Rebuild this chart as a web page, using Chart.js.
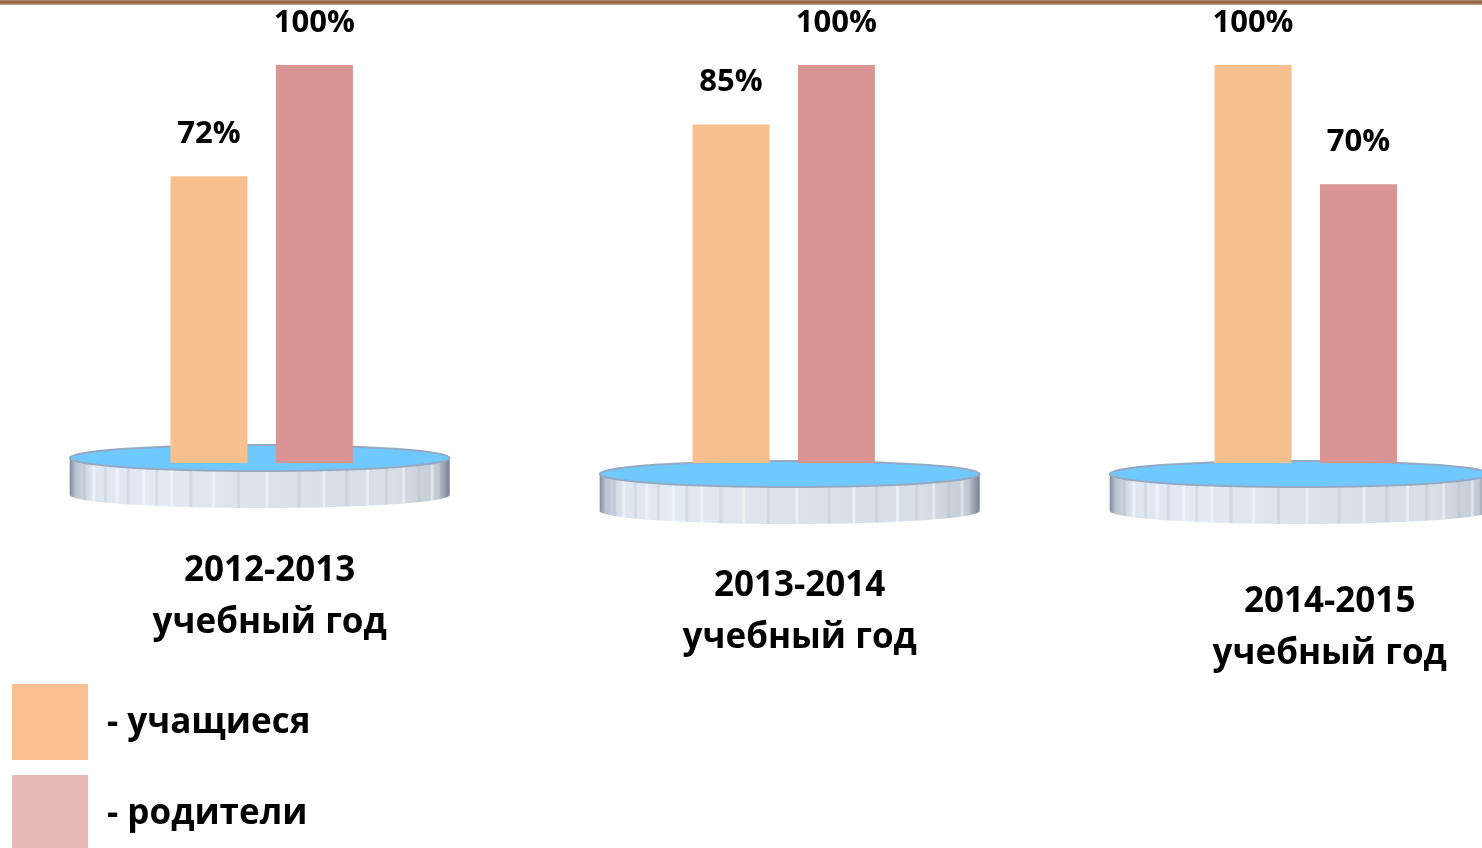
<!DOCTYPE html>
<html>
<head>
<meta charset="utf-8">
<script src="https://cdn.jsdelivr.net/npm/chart.js@4/dist/chart.umd.min.js"></script>
<style>
html,body{margin:0;padding:0;background:#fff;overflow:hidden;}
#wrap{position:relative;width:1482px;height:848px;}
canvas{display:block;}
</style>
</head>
<body>
<div id="wrap"><canvas id="c" width="1482" height="848"></canvas></div>
<script>
// ---- data ----
const categories = [['2012-2013', 'учебный год'], ['2013-2014', 'учебный год'], ['2014-2015', 'учебный год']];
const seriesNames = ['учащиеся', 'родители'];
const students = [72, 85, 100];
const parents = [100, 100, 70];

// ---- styles ----
const barColors = ['#F9C08F', '#D99594'];
const legendColors = ['#FAC090', '#E6B9B8'];
const pedestalDx = [-2, 6, -6];
const pedestalCy = [458, 474, 474];
const catLabelDx = [8, 16, 24];
const catLabelY = [571, 586, 602];
const FONT = '"Open Sans", Lato, sans-serif';

const idx = categories.map((_, i) => i);

const decor = {
  id: 'decor',
  beforeDatasetsDraw(chart) {
    const ctx = chart.ctx;
    const xs = chart.scales.x;
    const g = ctx.createLinearGradient(0, 0, 0, 5);
    g.addColorStop(0, '#b08866');
    g.addColorStop(0.5, '#8e6444');
    g.addColorStop(1, '#c9a98c');
    ctx.save();
    ctx.fillStyle = g;
    ctx.fillRect(0, 0, chart.width, 5);
    ctx.restore();
    idx.forEach(i => {
      const cx = xs.getPixelForValue(i) + pedestalDx[i];
      const cy = pedestalCy[i];
      const rx = 190, ry = 13, depth = 37;
      ctx.save();
      ctx.beginPath();
      ctx.moveTo(cx - rx, cy);
      ctx.lineTo(cx - rx, cy + depth);
      ctx.ellipse(cx, cy + depth, rx, ry, 0, Math.PI, 0, true);
      ctx.lineTo(cx + rx, cy);
      ctx.ellipse(cx, cy, rx, ry, 0, 0, Math.PI, false);
      ctx.closePath();
      const sg = ctx.createLinearGradient(cx - rx, 0, cx + rx, 0);
      sg.addColorStop(0, '#7f8a9c');
      sg.addColorStop(0.015, '#b9c2cf');
      sg.addColorStop(0.06, '#dfe6f0');
      sg.addColorStop(0.2, '#e4eaf3');
      sg.addColorStop(0.5, '#dce2ea');
      sg.addColorStop(0.85, '#d8dee6');
      sg.addColorStop(0.97, '#c3cad4');
      sg.addColorStop(1, '#737e90');
      ctx.fillStyle = sg;
      ctx.fill();
      ctx.clip();
      const stripes = [-0.93,-0.88,-0.82,-0.76,-0.7,-0.62,-0.55,-0.47,-0.37,-0.25,-0.12,0.03,0.2,0.33,0.45,0.56,0.66,0.75,0.83,0.9,0.95];
      stripes.forEach((s, k) => {
        ctx.fillStyle = k % 2 ? 'rgba(255,255,255,0.45)' : 'rgba(150,160,178,0.18)';
        ctx.fillRect(cx + s * rx, cy - ry, 3, depth + 3 * ry);
      });
      ctx.restore();
      ctx.save();
      ctx.beginPath();
      ctx.ellipse(cx, cy, rx, ry, 0, 0, Math.PI * 2);
      ctx.fillStyle = '#70c9fe';
      ctx.fill();
      ctx.lineWidth = 2;
      ctx.strokeStyle = '#93a9c4';
      ctx.stroke();
      ctx.restore();
    });
  },
  afterDatasetsDraw(chart) {
    const ctx = chart.ctx;
    const xs = chart.scales.x;
    ctx.save();
    ctx.fillStyle = '#000';
    ctx.textAlign = 'center';
    ctx.textBaseline = 'middle';
    ctx.font = 'bold 31px ' + FONT;
    chart.data.datasets.forEach((ds, d) => {
      chart.getDatasetMeta(d).data.forEach((bar, i) => {
        ctx.fillText(ds.data[i].y + '%', bar.x, bar.y - 42);
      });
    });
    ctx.font = 'bold 35px ' + FONT;
    categories.forEach((lines, i) => {
      const x = xs.getPixelForValue(i) + catLabelDx[i];
      lines.forEach((t, k) => ctx.fillText(t, x, catLabelY[i] + k * 52));
    });
    ctx.textAlign = 'left';
    ctx.font = 'bold 35px ' + FONT;
    chart.data.datasets.forEach((ds, d) => {
      const top = 684 + d * 91;
      ctx.fillStyle = legendColors[d];
      ctx.fillRect(12, top, 76, 76);
      ctx.fillStyle = '#000';
      ctx.fillText('- ' + ds.label, 107, top + 39);
    });
    ctx.restore();
  }
};

new Chart(document.getElementById('c'), {
  type: 'bar',
  data: {
    datasets: [
      { label: seriesNames[0], data: students.map((v, i) => ({ x: i, y: v })), backgroundColor: barColors[0] },
      { label: seriesNames[1], data: parents.map((v, i) => ({ x: i, y: v })), backgroundColor: barColors[1] }
    ]
  },
  options: {
    responsive: false,
    animation: false,
    events: [],
    layout: { padding: { left: 0, right: 0, top: 0, bottom: 385 } },
    categoryPercentage: 0.404,
    barPercentage: 0.73,
    scales: {
      x: {
        type: 'linear', display: false, min: -0.5013, max: 2.3377, offset: false,
        afterBuildTicks: (axis) => { axis.ticks = idx.map(v => ({ value: v })); }
      },
      y: { display: false, min: 0, max: 116.3 }
    },
    plugins: { legend: { display: false }, tooltip: { enabled: false } }
  },
  plugins: [decor]
});
</script>
</body>
</html>
